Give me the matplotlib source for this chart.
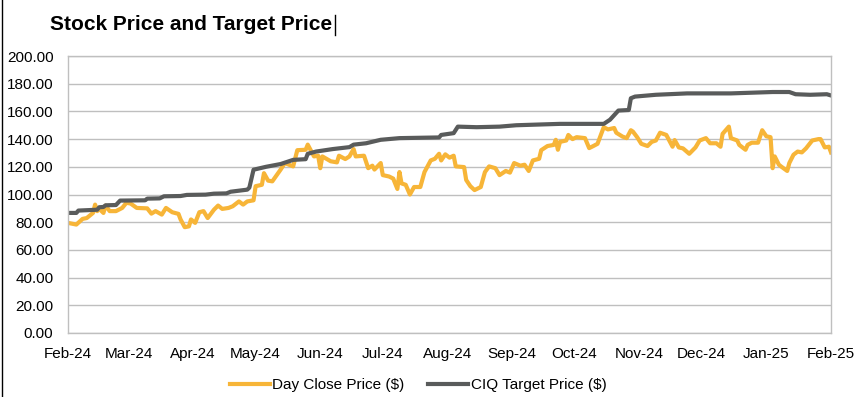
import pandas as pd
import matplotlib
matplotlib.use("Agg")
import matplotlib.pyplot as plt
import matplotlib.dates as mdates
from matplotlib.lines import Line2D

plt.rcParams["font.family"] = ["Liberation Sans", "DejaVu Sans"]

# x positions are days since 1 Feb 2024
start = pd.Timestamp("2024-02-01")

close_days = [0, 4, 7, 9, 12, 13, 14, 15, 17, 18, 20, 23, 26, 28, 30, 33, 38, 40, 42, 45,
              47, 50, 53, 54, 56, 58, 59, 61, 63, 65, 67, 70, 72, 74, 77, 79, 82, 84, 86, 89,
              90, 93, 94, 96, 98, 102, 104, 108, 110, 114, 115, 118, 120, 121, 122, 126, 129, 130, 133, 135,
              137, 138, 142, 144, 146, 147, 150, 151, 154, 156, 158, 159, 160, 162, 164, 166, 169, 171, 174, 176,
              178, 179, 181, 183, 185, 186, 190, 191, 193, 195, 198, 200, 202, 205, 207, 210, 212, 214, 217, 219,
              221, 223, 226, 227, 230, 233, 234, 235, 236, 239, 240, 242, 244, 248, 250, 252, 254, 257, 259, 262,
              263, 266, 268, 270, 271, 273, 275, 278, 280, 282, 284, 287, 290, 291, 293, 295, 298, 301, 303, 306,
              308, 311, 313, 314, 317, 318, 321, 322, 325, 326, 328, 331, 333, 335, 337, 338, 339, 341, 342, 345,
              346, 348, 350, 352, 354, 357, 360, 361, 363, 365, 366]
close_price = [79.5, 78.3, 82.4, 83.0, 86.7, 92.7, 88.0, 89.6, 86.7, 92.0, 88.0, 88.0, 90.3, 94.0, 93.5, 90.3, 90.0, 86.2, 88.0, 85.5,
               90.3, 87.2, 86.0, 82.0, 76.4, 77.0, 82.0, 79.5, 87.2, 88.0, 83.0, 89.0, 92.0, 89.6, 90.3, 91.5, 95.0, 92.7, 95.0, 95.8,
               106.0, 107.0, 115.4, 110.0, 109.5, 118.0, 122.7, 120.3, 132.0, 132.3, 136.0, 127.5, 128.0, 119.0, 127.5, 124.0, 123.2, 128.0, 125.6, 127.5,
               132.8, 127.5, 128.0, 119.0, 120.8, 118.0, 122.7, 114.0, 113.0, 111.5, 104.0, 116.2, 108.0, 107.0, 100.0, 105.4, 105.4, 116.2, 124.6, 125.8,
               129.4, 124.6, 129.0, 126.6, 128.0, 120.3, 119.8, 110.5, 106.0, 103.2, 105.4, 116.2, 120.3, 119.0, 114.0, 117.0, 115.8, 122.7, 120.8, 121.5,
               117.0, 124.6, 125.8, 132.0, 135.0, 135.8, 139.5, 132.3, 138.0, 139.0, 143.0, 140.0, 141.4, 140.7, 133.5, 135.0, 136.6, 148.6, 147.0, 148.0,
               144.6, 141.8, 140.7, 146.4, 145.4, 141.4, 136.6, 135.0, 138.0, 139.0, 144.6, 143.0, 134.5, 139.3, 134.0, 133.3, 129.4, 134.0, 139.0, 140.7,
               137.0, 137.0, 134.5, 143.8, 149.0, 140.7, 139.0, 135.8, 132.3, 135.8, 137.4, 137.4, 146.4, 142.0, 141.4, 119.0, 127.5, 121.5, 120.3, 117.0,
               122.7, 128.7, 131.0, 130.4, 133.3, 139.0, 140.0, 140.0, 134.0, 134.5, 130.4]

target_days = [0, 4, 5, 14, 15, 17, 18, 23, 25, 37, 38, 44, 46, 54, 57, 66, 70, 76, 78, 86,
               87, 89, 95, 102, 108, 114, 115, 119, 127, 135, 137, 143, 150, 159, 178, 179, 185, 187, 196, 207,
               215, 236, 257, 260, 264, 269, 270, 272, 282, 297, 318, 338, 346, 349, 356, 364, 366]
target_price = [86.7, 86.7, 88.4, 89.0, 90.8, 91.0, 92.2, 92.4, 95.6, 95.8, 97.0, 97.2, 98.7, 98.9, 99.7, 99.9, 100.6, 100.8, 102.0, 103.5,
                105.0, 117.9, 120.0, 122.0, 125.0, 125.5, 129.4, 131.0, 132.8, 134.2, 136.0, 137.0, 139.5, 140.7, 141.2, 143.0, 144.3, 149.0, 148.6, 149.0,
                150.0, 151.0, 151.0, 154.0, 160.6, 161.0, 169.5, 170.7, 172.0, 173.0, 173.0, 174.0, 174.0, 172.4, 172.0, 172.4, 171.5]

close_dates = start + pd.to_timedelta(close_days, unit="D")
target_dates = start + pd.to_timedelta(target_days, unit="D")

fig = plt.figure(figsize=(8.61, 3.97), dpi=100)
ax = fig.add_axes([68 / 861, 64 / 397, 763 / 861, 277 / 397])

ax.plot(close_dates, close_price, color="#F7B538", linewidth=3, label="Day Close Price ($)")
ax.plot(target_dates, target_price, color="#595B5B", linewidth=3, label="CIQ Target Price ($)")

ax.set_ylim(0, 200)
ax.set_yticks(range(0, 201, 20))
ax.yaxis.set_major_formatter(matplotlib.ticker.FormatStrFormatter("%.2f"))
ax.set_xlim(start, pd.Timestamp("2025-02-01"))
ax.xaxis.set_major_locator(mdates.MonthLocator())
ax.xaxis.set_major_formatter(mdates.DateFormatter("%b-%y"))

ax.grid(True, axis="y", color="#BFBFBF", linewidth=1)
ax.set_axisbelow(True)
for s in ax.spines.values():
    s.set_color("#BFBFBF")
    s.set_linewidth(1)
ax.tick_params(length=0, labelsize=11, colors="black")
ax.tick_params(axis="y", pad=10.5)
ax.tick_params(axis="x", pad=10)

fig.text(50 / 861, 1 - 24 / 397, "Stock Price and Target Price", fontsize=15,
         fontweight="bold", va="center", ha="left")
# text cursor after the title and the frame's left edge
fig.add_artist(Line2D([335 / 861, 335 / 861], [1 - 15 / 397, 1 - 35 / 397], color="black", linewidth=1))
fig.add_artist(Line2D([1.5 / 861, 1.5 / 861], [0, 1], color="black", linewidth=1))

fig.legend(loc="center", bbox_to_anchor=(0.4855, 1 - 385 / 397), ncol=2, frameon=False,
           fontsize=11, handlelength=2.6, handletextpad=0.15, columnspacing=1.6)

fig.savefig("out.png", dpi=100)
